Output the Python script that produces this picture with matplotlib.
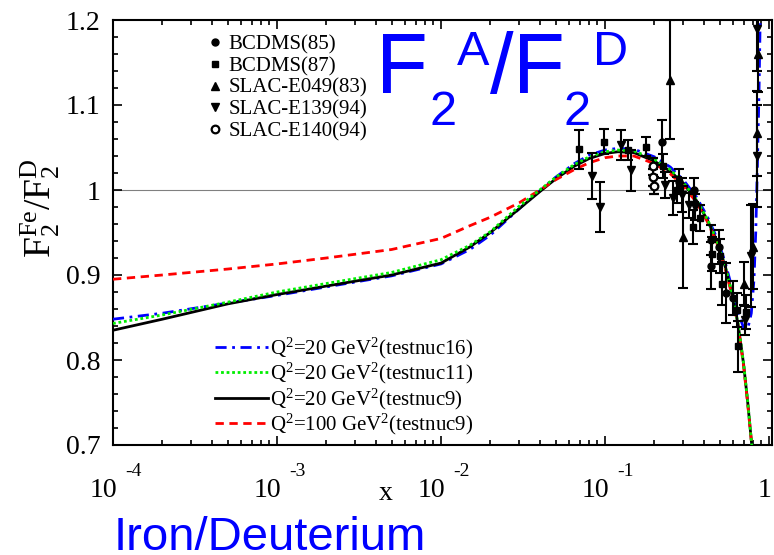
import matplotlib
matplotlib.use("Agg")
import matplotlib.pyplot as plt
from matplotlib.lines import Line2D
from matplotlib.ticker import FixedLocator, NullFormatter, FuncFormatter

plt.rcParams["mathtext.fontset"] = "custom"
plt.rcParams["mathtext.rm"] = "Liberation Serif"
plt.rcParams["mathtext.it"] = "Liberation Serif:italic"
plt.rcParams["mathtext.bf"] = "Liberation Serif:bold"

SERIF = "Liberation Serif"
SANS = "Liberation Sans"

# ---------------- model curves: F2(Fe)/F2(D) ----------------
x_nuc9 = [1e-4, 2e-4, 5e-4, 1e-3, 2e-3, 5e-3, 1e-2, 1.5e-2, 2e-2, 3e-2, 4e-2, 5e-2,
          6.5e-2, 8e-2, 0.1, 0.12, 0.15, 0.2, 0.25, 0.3, 0.36, 0.42, 0.48, 0.54,
          0.6, 0.65, 0.7, 0.74, 0.785]
r_nuc9_q20 = [0.835, 0.848, 0.866, 0.877, 0.887, 0.900, 0.914, 0.933, 0.950, 0.978,
              0.998, 1.013, 1.028, 1.037, 1.043, 1.045, 1.044, 1.034, 1.022, 1.008,
              0.988, 0.965, 0.940, 0.910, 0.875, 0.840, 0.795, 0.752, 0.700]
r_nuc9_q100 = [0.895, 0.900, 0.907, 0.913, 0.920, 0.930, 0.943, 0.958, 0.968, 0.985,
               1.000, 1.012, 1.024, 1.032, 1.038, 1.040, 1.040, 1.031, 1.019, 1.005,
               0.986, 0.963, 0.938, 0.908, 0.873, 0.838, 0.793, 0.750, 0.700]
r_nuc11_q20 = [0.843, 0.853, 0.868, 0.880, 0.890, 0.903, 0.918, 0.935, 0.951, 0.981,
               1.000, 1.015, 1.030, 1.039, 1.045, 1.047, 1.046, 1.036, 1.024, 1.009,
               0.989, 0.966, 0.941, 0.911, 0.876, 0.841, 0.796, 0.753, 0.700]
x_nuc16 = [1e-4, 2e-4, 5e-4, 1e-3, 2e-3, 5e-3, 1e-2, 1.5e-2, 2e-2, 3e-2, 4e-2, 5e-2,
           6.5e-2, 8e-2, 0.1, 0.12, 0.15, 0.2, 0.25, 0.3, 0.36, 0.42, 0.48, 0.54,
           0.6, 0.65, 0.7, 0.74, 0.78, 0.81, 0.83, 0.85, 0.87, 0.885]
r_nuc16_q20 = [0.848, 0.855, 0.867, 0.876, 0.886, 0.899, 0.913, 0.930, 0.947, 0.978,
               0.999, 1.015, 1.031, 1.041, 1.047, 1.049, 1.048, 1.039, 1.027, 1.012,
               0.992, 0.969, 0.944, 0.915, 0.882, 0.855, 0.838, 0.836, 0.855, 0.895,
               0.950, 1.030, 1.120, 1.210]

# ---------------- data: x, ratio, error ----------------
bcdms85_x = [0.222, 0.282, 0.350, 0.443, 0.443, 0.498, 0.547, 0.606]
bcdms85_r = [1.056, 1.010, 1.000, 0.941, 0.911, 0.933, 0.879, 0.873]
bcdms85_e = [0.026, 0.015, 0.014, 0.018, 0.028, 0.020, 0.035, 0.020]

bcdms87_x = [0.0697, 0.099, 0.139, 0.179, 0.225, 0.274, 0.345, 0.380, 0.447, 0.502,
             0.515, 0.641, 0.720, 0.651]
bcdms87_r = [1.048, 1.057, 1.047, 1.051, 1.028, 1.000, 0.957, 0.967, 0.925, 0.922,
             0.890, 0.859, 0.857, 0.816]
bcdms87_e = [0.023, 0.015, 0.012, 0.011, 0.014, 0.015, 0.020, 0.015, 0.020, 0.020,
             0.025, 0.020, 0.020, 0.030]

e049_x = [0.249, 0.298, 0.700, 0.800, 0.840, 0.860]
e049_r = [1.130, 0.945, 0.890, 0.933, 1.067, 1.160]
e049_e = [0.070, 0.060, 0.025, 0.050, 0.050, 0.045]

e139_x = [0.0837, 0.093, 0.125, 0.145, 0.232, 0.260, 0.294, 0.323, 0.354, 0.714,
          0.780, 0.840, 0.850]
e139_r = [1.016, 0.980, 1.053, 1.023, 1.006, 0.991, 0.994, 0.982, 0.980, 0.847,
          0.922, 1.040, 1.190]
e139_e = [0.027, 0.029, 0.018, 0.024, 0.015, 0.020, 0.020, 0.015, 0.015, 0.017,
          0.060, 0.060, 0.050]

e140_x = [0.195, 0.197, 0.200]
e140_r = [1.028, 1.015, 1.005]
e140_e = [0.010, 0.010, 0.010]

# ---------------- axis settings ----------------
x_min, x_max = 1e-4, 1.043
y_min, y_max = 0.7, 1.2
x_major = [1e-4, 1e-3, 1e-2, 1e-1, 1.0]
x_major_exp = ["-4", "-3", "-2", "-1", None]
y_major = [0.7, 0.8, 0.9, 1.0, 1.1, 1.2]

W, H = 774, 555
PT = 0.72  # points per pixel at 100 dpi
fig = plt.figure(figsize=(W / 100, H / 100), dpi=100)

def fx(px):
    return px / W

def fy(py):
    return (H - py) / H

ax = fig.add_axes([fx(113), fy(445), (772 - 113) / W, (445 - 20) / H])
ax.set_xscale("log")
ax.set_xlim(x_min, x_max)
ax.set_ylim(y_min, y_max)

ax.axhline(1.0, color="#808080", lw=0.8, zorder=1)

# model curves
ax.plot(x_nuc16, r_nuc16_q20, color="#0000ff", lw=2.0, ls=(0, (4, 2, 1, 2)), zorder=3)
ax.plot(x_nuc9, r_nuc11_q20, color="#00ee00", lw=2.0, ls=(0, (1, 1)), zorder=4)
ax.plot(x_nuc9, r_nuc9_q20, color="black", lw=2.0, ls="-", zorder=3)
ax.plot(x_nuc9, r_nuc9_q100, color="#ff0000", lw=2.0, ls=(0, (3, 2)), zorder=3)

# data sets
styles = {
    "BCDMS(85)": dict(marker="o", ms=5.0, mfc="black", mec="black"),
    "BCDMS(87)": dict(marker="s", ms=5.0, mfc="black", mec="black"),
    "SLAC-E049(83)": dict(marker="^", ms=6.0, mfc="black", mec="black"),
    "SLAC-E139(94)": dict(marker="v", ms=6.0, mfc="black", mec="black"),
    "SLAC-E140(94)": dict(marker="o", ms=5.5, mfc="white", mec="black", mew=1.6),
}
datasets = [
    ("BCDMS(85)", bcdms85_x, bcdms85_r, bcdms85_e),
    ("BCDMS(87)", bcdms87_x, bcdms87_r, bcdms87_e),
    ("SLAC-E049(83)", e049_x, e049_r, e049_e),
    ("SLAC-E139(94)", e139_x, e139_r, e139_e),
    ("SLAC-E140(94)", e140_x, e140_r, e140_e),
]
for name, xs, rs, es in datasets:
    ax.errorbar(xs, rs, yerr=es, ls="none", color="black", elinewidth=1.5,
                capsize=3.5, capthick=1.5, zorder=5, **styles[name])

# frame and ticks
for sp in ax.spines.values():
    sp.set_linewidth(1.5)
ax.xaxis.set_major_locator(FixedLocator(x_major))
minor = [m * 10.0 ** k for k in range(-4, 0) for m in range(2, 10)]
ax.xaxis.set_minor_locator(FixedLocator(minor))
ax.xaxis.set_major_formatter(NullFormatter())
ax.xaxis.set_minor_formatter(NullFormatter())
ax.yaxis.set_major_locator(FixedLocator(y_major))
ax.yaxis.set_minor_locator(FixedLocator([0.7 + 0.02 * i for i in range(26)]))
ax.yaxis.set_major_formatter(FuncFormatter(lambda v, p: "%g" % round(v, 2)))
ax.tick_params(which="both", direction="in", top=True, right=True, width=1.2)
ax.tick_params(which="major", length=6.5)
ax.tick_params(which="minor", length=3.5)
ax.tick_params(axis="y", labelsize=20, pad=9)
for lab in ax.get_yticklabels():
    lab.set_fontfamily(SERIF)

# x tick labels drawn as 10 with a raised exponent
for xv, ex in zip(x_major, x_major_exp):
    if ex is None:
        ax.annotate("1", xy=(xv, 0), xycoords=("data", "axes fraction"),
                    xytext=(-4 * PT, -52 * PT), textcoords="offset points",
                    ha="center", va="baseline", fontsize=20, family=SERIF)
    else:
        ax.annotate("10", xy=(xv, 0), xycoords=("data", "axes fraction"),
                    xytext=(4 * PT, -52 * PT), textcoords="offset points",
                    ha="right", va="baseline", fontsize=20, family=SERIF)
        ax.annotate(ex, xy=(xv, 0), xycoords=("data", "axes fraction"),
                    xytext=(12 * PT, -31 * PT), textcoords="offset points",
                    ha="left", va="baseline", fontsize=14, family=SERIF)

fig.text(fx(386), fy(500), "x", fontsize=20, family=SERIF, ha="center", va="baseline")
fig.text(fx(40), fy(208), r"$\mathregular{F_2^{Fe}/F_2^{D}}$", fontsize=27,
         family=SERIF, rotation=90, ha="center", va="center")

# legends
mk_handles = [Line2D([], [], ls="none", **styles[n]) for n, _, _, _ in datasets]
leg1 = ax.legend(mk_handles, [n for n, _, _, _ in datasets],
                 loc="upper left", bbox_to_anchor=(fx(209), fy(35)),
                 bbox_transform=fig.transFigure, frameon=False,
                 prop={"family": SERIF, "size": 15}, handlelength=0.6,
                 handletextpad=0.32, labelspacing=0.1, borderpad=0.0,
                 borderaxespad=0.0, numpoints=1)
ax.add_artist(leg1)

ln_handles = [
    Line2D([], [], color="#0000ff", lw=2.0, ls=(0, (4, 2, 1, 2))),
    Line2D([], [], color="#00ee00", lw=2.0, ls=(0, (1, 1))),
    Line2D([], [], color="black", lw=2.0, ls="-"),
    Line2D([], [], color="#ff0000", lw=2.0, ls=(0, (3, 2))),
]
ln_labels = [
    r"Q$^{2}$=20 GeV$^{2}$(testnuc16)",
    r"Q$^{2}$=20 GeV$^{2}$(testnuc11)",
    r"Q$^{2}$=20 GeV$^{2}$(testnuc9)",
    r"Q$^{2}$=100 GeV$^{2}$(testnuc9)",
]
ax.legend(ln_handles, ln_labels, loc="upper left",
          bbox_to_anchor=(fx(215), fy(336)), bbox_transform=fig.transFigure,
          frameon=False, prop={"family": SERIF, "size": 15}, handlelength=2.55,
          handletextpad=0.1, labelspacing=0.0, borderpad=0.0, borderaxespad=0.0)

# headline texts
blue = "#0000ff"
big, small = 61, 35
fig.text(fx(376), fy(93), "F", fontsize=big, family=SANS, color=blue, va="baseline")
fig.text(fx(430), fy(125), "2", fontsize=small, family=SANS, color=blue, va="baseline")
fig.text(fx(457), fy(65), "A", fontsize=small, family=SANS, color=blue, va="baseline")
fig.text(fx(490), fy(93), "/", fontsize=big, family=SANS, color=blue, va="baseline")
fig.text(fx(513), fy(93), "F", fontsize=big, family=SANS, color=blue, va="baseline")
fig.text(fx(563), fy(125), "2", fontsize=small, family=SANS, color=blue, va="baseline")
fig.text(fx(593), fy(65), "D", fontsize=small, family=SANS, color=blue, va="baseline")
fig.text(fx(114), fy(550), "Iron/Deuterium", fontsize=34, family=SANS, color=blue,
         va="baseline")

fig.savefig("out.png", dpi=100)
